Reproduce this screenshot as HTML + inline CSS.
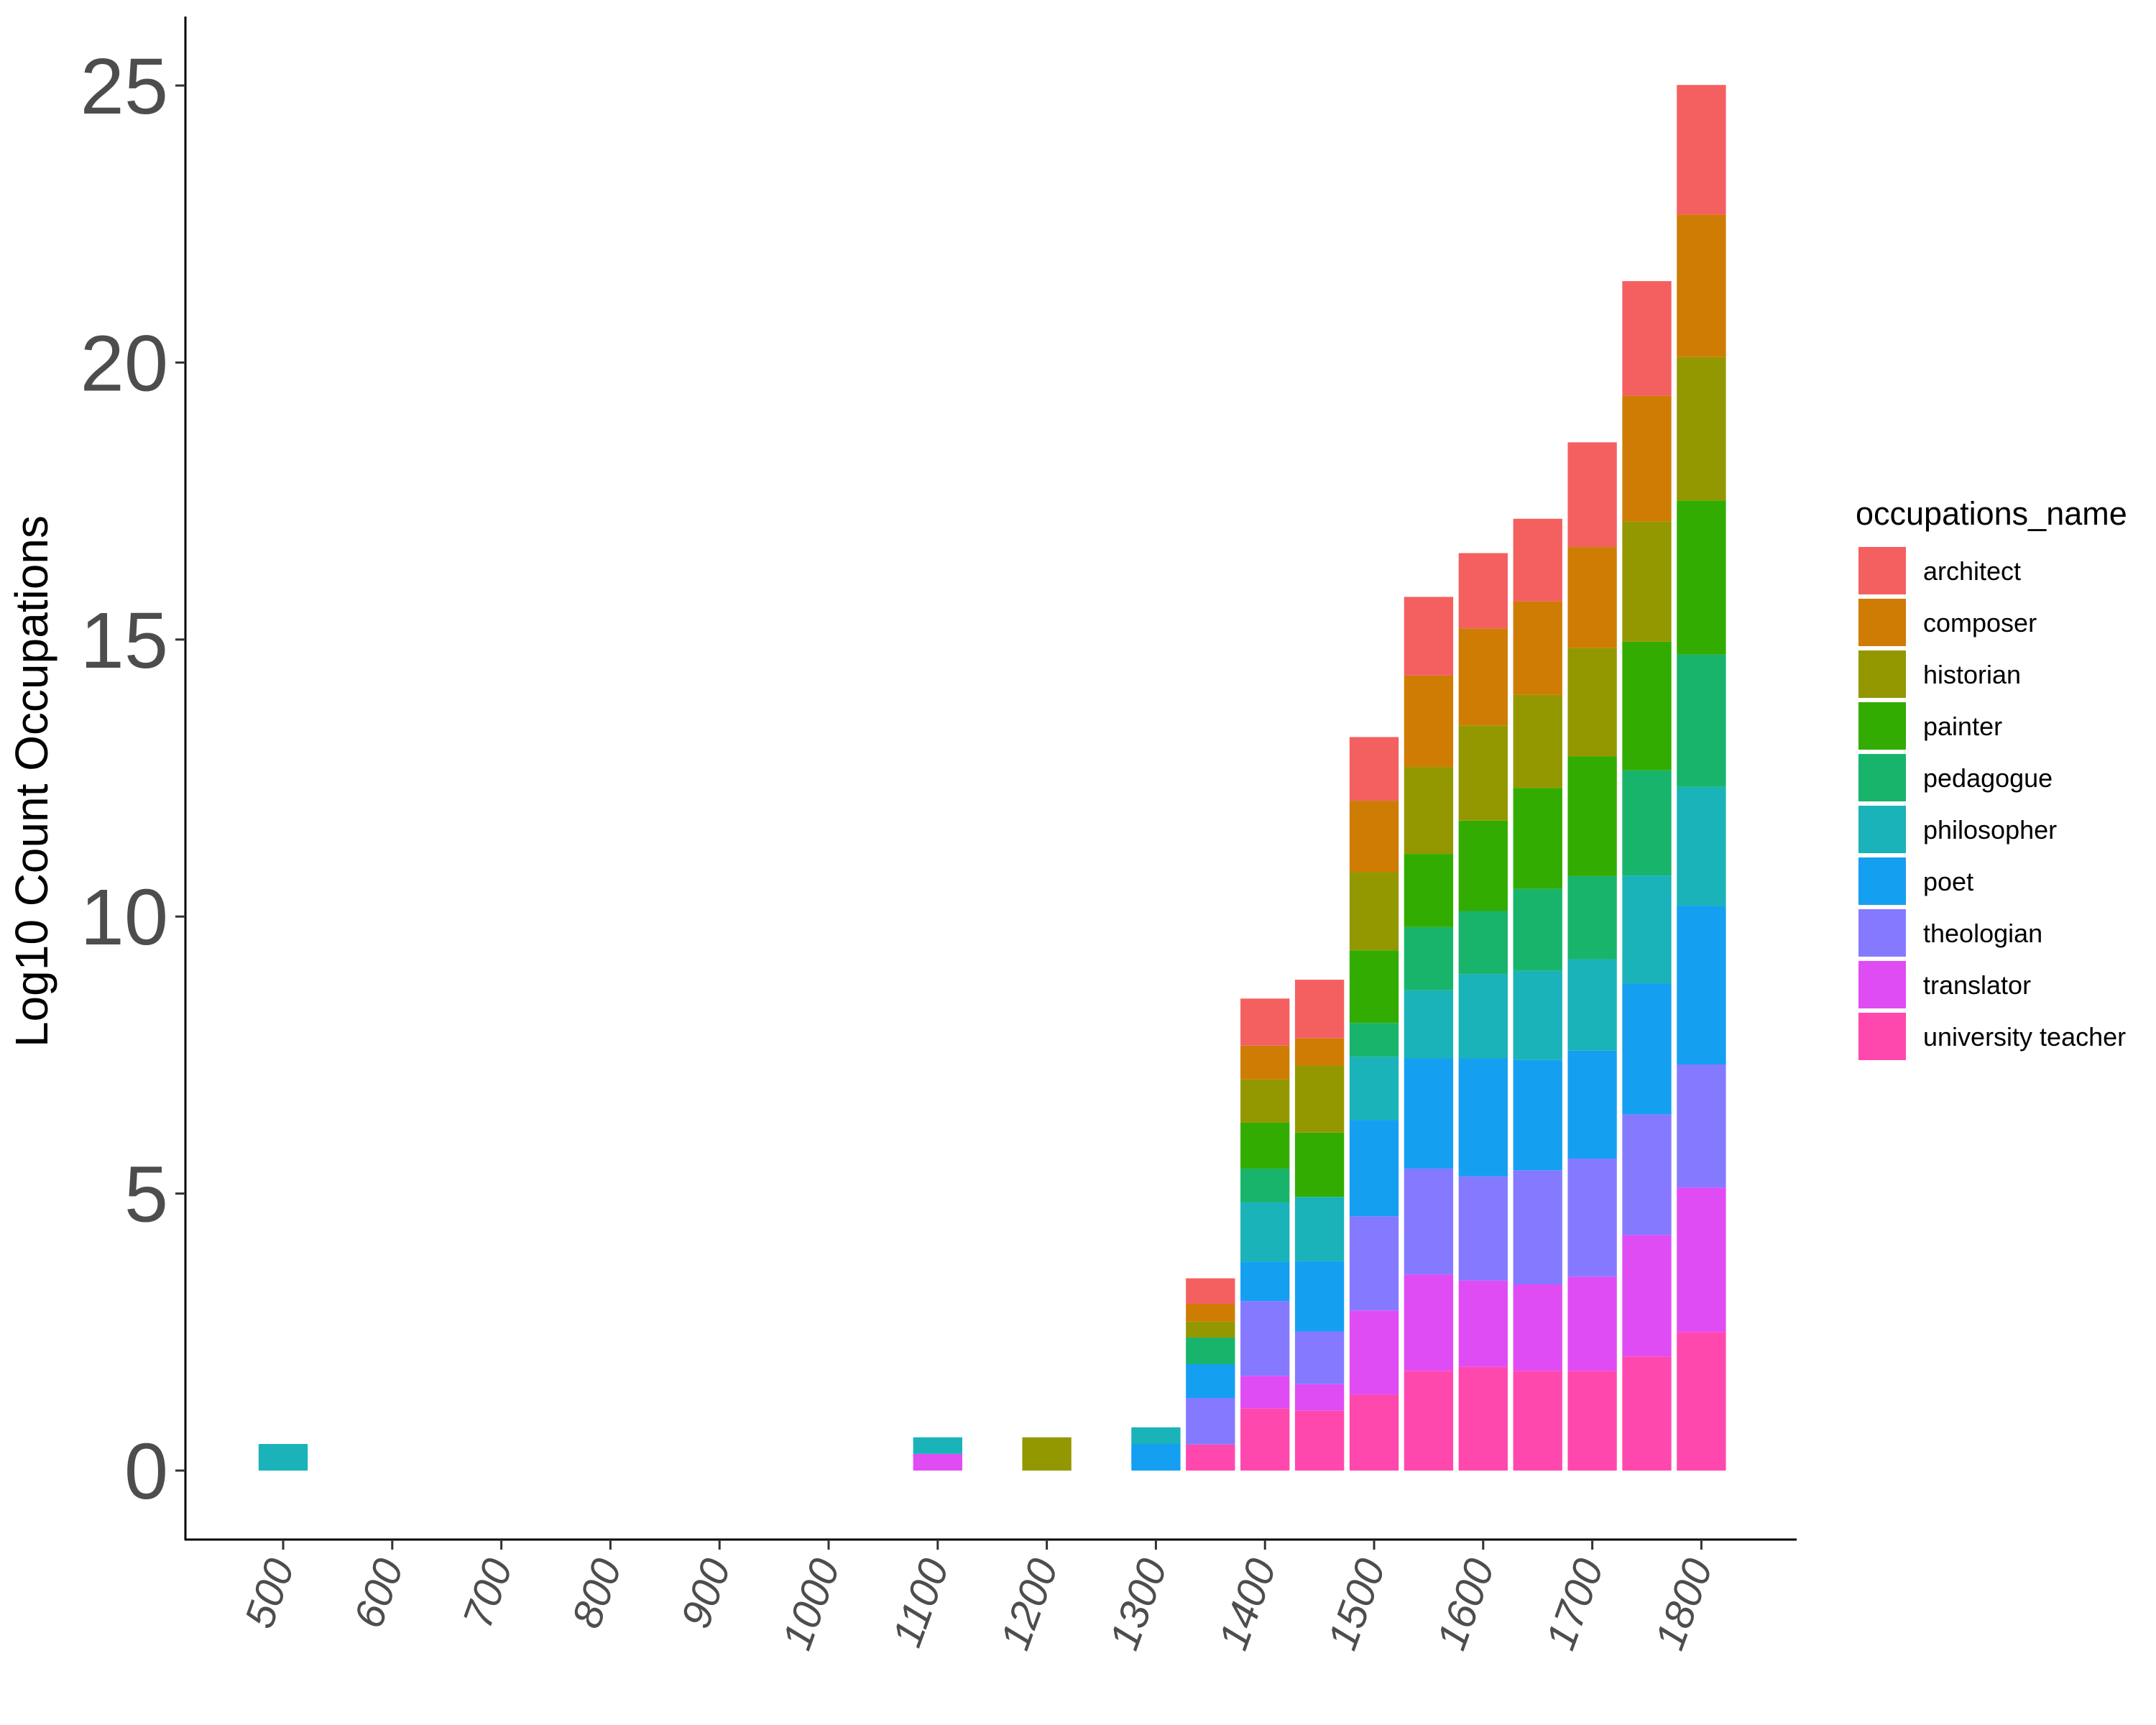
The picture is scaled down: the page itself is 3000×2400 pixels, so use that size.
<!DOCTYPE html>
<html><head><meta charset="utf-8">
<style>
html,body{margin:0;padding:0;background:#fff;}
svg{display:block;font-family:"Liberation Sans",Arial,sans-serif;}
</style></head>
<body>
<svg id="chart" width="3000" height="2400" viewBox="0 0 3000 2400" xmlns="http://www.w3.org/2000/svg">
<rect width="3000" height="2400" fill="#fff"/>
<g id="bars"></g>
<g id="axes"></g>
<g id="legend"></g>
</svg>
<script>
const occupations = ["architect","composer","historian","painter","pedagogue","philosopher","poet","theologian","translator","university teacher"];
const colors = ["#F46060","#CF7C05","#939800","#32AC00","#18B46C","#19B3B9","#159FF1","#857AFF","#E04CF3","#FF48AE"];
const years = [500,1100,1200,1300,1350,1400,1450,1500,1550,1600,1650,1700,1750,1800];
// values per year, ordered architect..university teacher
const v500  = [0,0,0,0,0,0.48,0,0,0,0];
const v1100 = [0,0,0,0,0,0.3,0,0,0.3,0];
const v1200 = [0,0,0.6,0,0,0,0,0,0,0];
const v1300 = [0,0,0,0,0,0.3,0.48,0,0,0];
const v1350 = [0.46,0.32,0.29,0,0.48,0,0.61,0.84,0,0.47];
const v1400 = [0.85,0.61,0.78,0.83,0.61,1.07,0.71,1.35,0.59,1.12];
const v1450 = [1.06,0.49,1.21,1.16,0,1.16,1.27,0.95,0.48,1.08];
const v1500 = [1.15,1.29,1.41,1.31,0.61,1.14,1.74,1.70,1.52,1.37];
const v1550 = [1.42,1.65,1.57,1.32,1.14,1.23,1.99,1.91,1.74,1.80];
const v1600 = [1.36,1.75,1.72,1.63,1.14,1.52,2.13,1.88,1.56,1.87];
const v1650 = [1.49,1.69,1.68,1.82,1.48,1.61,1.99,2.06,1.56,1.80];
const v1700 = [1.89,1.82,1.96,2.16,1.50,1.65,1.95,2.13,1.70,1.80];
const v1750 = [2.07,2.27,2.17,2.32,1.90,1.95,2.36,2.18,2.19,2.06];
const v1800 = [2.34,2.57,2.59,2.78,2.39,2.15,2.86,2.22,2.61,2.50];
const values = [v500,v1100,v1200,v1300,v1350,v1400,v1450,v1500,v1550,v1600,v1650,v1700,v1750,v1800];
const xTicks = [500,600,700,800,900,1000,1100,1200,1300,1400,1500,1600,1700,1800];
const yTicks = [0,5,10,15,20,25];

const NS="http://www.w3.org/2000/svg";
function X(yr){return 394 + (yr-500)*1.518;}
function Y(v){return 2046 - v*77.08;}
const barW = 45*1.518;
function mk(tag,attrs,parent){const e=document.createElementNS(NS,tag);for(const k in attrs)e.setAttribute(k,attrs[k]);parent.appendChild(e);return e;}

const gb=document.getElementById('bars');
years.forEach((yr,i)=>{
  let cum=0;
  for(let k=occupations.length-1;k>=0;k--){
    const val=values[i][k];
    if(val<=0)continue;
    const r=mk('rect',{x:X(yr)-barW/2,y:Y(cum+val),width:barW,height:Y(cum)-Y(cum+val),fill:colors[k]},gb);
    
    
    cum+=val;
  }
});

const ga=document.getElementById('axes');
const yl=mk('line',{x1:258,y1:23,x2:258,y2:2143,stroke:'#000','stroke-width':3},ga);


const xl=mk('line',{x1:257,y1:2142,x2:2500,y2:2142,stroke:'#000','stroke-width':3},ga);


yTicks.forEach(t=>{
  const tk=mk('line',{x1:244,y1:Y(t),x2:258,y2:Y(t),stroke:'#333','stroke-width':3},ga);
  
  
  const tx=mk('text',{x:234,y:Y(t)+39,'text-anchor':'end','font-size':110,fill:'#4D4D4D'},ga);
  tx.textContent=t;
  
  
});
xTicks.forEach(t=>{
  const tk=mk('line',{x1:X(t),y1:2142,x2:X(t),y2:2156,stroke:'#333','stroke-width':3},ga);
  
  
  const tx=mk('text',{x:X(t)+16,y:2178,'text-anchor':'end','font-size':58,'font-style':'italic',fill:'#4D4D4D',transform:'rotate(-70 '+(X(t)+16)+' 2178)'},ga);
  tx.textContent=t;
  
  
});
const yt=mk('text',{x:66,y:1087,'text-anchor':'middle','font-size':64,fill:'#000',transform:'rotate(-90 66 1087)'},ga);
yt.textContent='Log10 Count Occupations';



const gl=document.getElementById('legend');
const lt=mk('text',{x:2582,y:730,'font-size':45,fill:'#000'},gl);
lt.textContent='occupations_name';


occupations.forEach((o,k)=>{
  const y0=761+k*72;
  const r=mk('rect',{x:2586,y:y0,width:66,height:66,fill:colors[k]},gl);
  
  
  const t=mk('text',{x:2676,y:y0+46,'font-size':36,fill:'#000'},gl);
  t.textContent=o;
  
  
});
</script>
</body></html>
